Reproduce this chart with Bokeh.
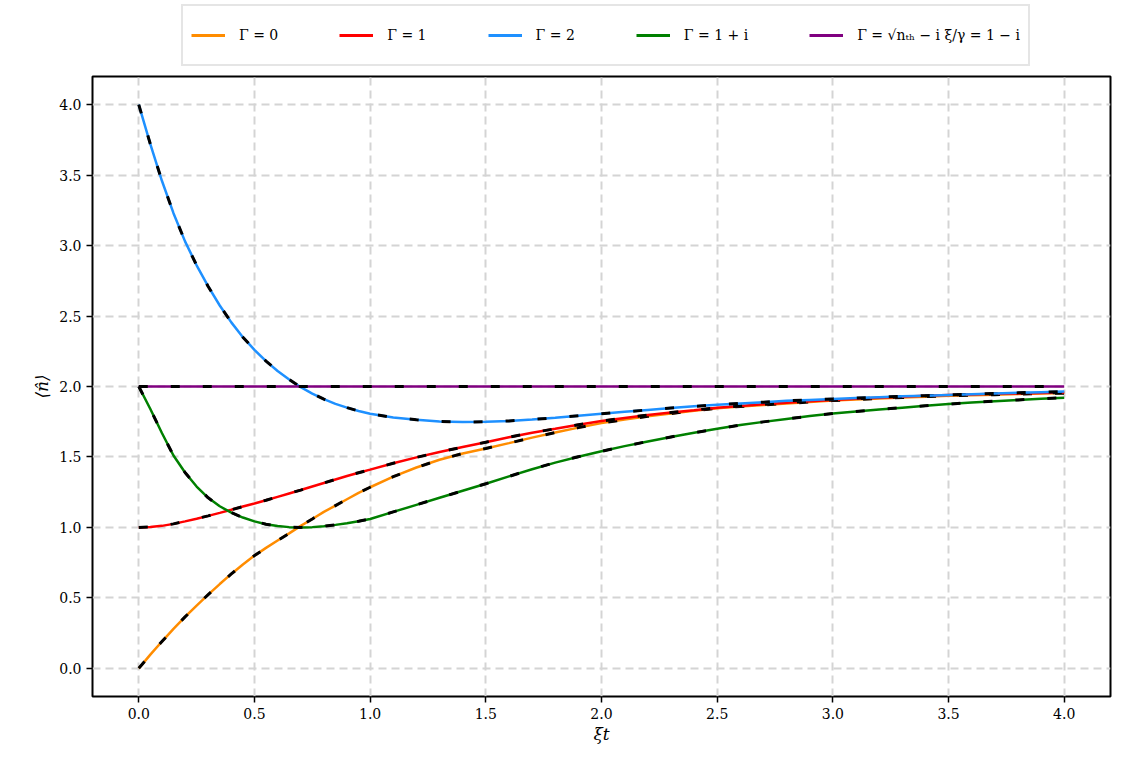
from bokeh.plotting import figure
from bokeh.models import Legend, LegendItem, FixedTicker, ColumnDataSource, Range1d
from bokeh.layouts import column
from bokeh.embed import file_html
from bokeh.resources import INLINE

t = [0.0, 0.05, 0.1, 0.15, 0.2, 0.25, 0.3, 0.35, 0.4, 0.45, 0.5, 0.55, 0.6, 0.65, 0.7,
     0.75, 0.8, 0.85, 0.9, 0.95, 1.0, 1.1, 1.2, 1.3, 1.4, 1.5, 1.6, 1.7, 1.8, 1.9, 2.0,
     2.1, 2.2, 2.3, 2.4, 2.5, 2.6, 2.7, 2.8, 2.9, 3.0, 3.1, 3.2, 3.3, 3.4, 3.5, 3.6, 3.7,
     3.8, 3.9, 4.0]

n_gamma0 = [0.0, 0.097, 0.19, 0.28, 0.365, 0.445, 0.523, 0.598, 0.67, 0.737, 0.80,
            0.855, 0.907, 0.958, 1.011, 1.06, 1.11, 1.155, 1.20, 1.245, 1.285,
            1.36, 1.425, 1.48, 1.525, 1.56, 1.598, 1.637, 1.673, 1.708, 1.74,
            1.765, 1.788, 1.808, 1.828, 1.846, 1.858, 1.869, 1.88, 1.89, 1.90,
            1.908, 1.915, 1.922, 1.928, 1.934, 1.938, 1.942, 1.946, 1.95, 1.953]
n_gamma1 = [1.0, 1.003, 1.011, 1.025, 1.043, 1.062, 1.082, 1.103, 1.125, 1.148, 1.17,
            1.193, 1.217, 1.241, 1.265, 1.29, 1.315, 1.34, 1.365, 1.388, 1.41,
            1.455, 1.497, 1.535, 1.57, 1.605, 1.64, 1.672, 1.70, 1.729, 1.755,
            1.777, 1.797, 1.815, 1.832, 1.85, 1.862, 1.874, 1.885, 1.895, 1.905,
            1.913, 1.92, 1.927, 1.934, 1.94, 1.944, 1.948, 1.951, 1.954, 1.957]
n_gamma2 = [4.0, 3.72, 3.46, 3.23, 3.03, 2.86, 2.71, 2.575, 2.455, 2.35, 2.26,
            2.18, 2.11, 2.05, 1.995, 1.95, 1.91, 1.877, 1.85, 1.826, 1.806,
            1.78, 1.764, 1.752, 1.748, 1.75, 1.756, 1.766, 1.778, 1.792, 1.806,
            1.82, 1.834, 1.847, 1.859, 1.87, 1.88, 1.889, 1.898, 1.905, 1.912,
            1.918, 1.924, 1.93, 1.935, 1.94, 1.945, 1.95, 1.955, 1.96, 1.965]
n_gamma1pi = [2.0, 1.84, 1.67, 1.51, 1.39, 1.29, 1.21, 1.15, 1.105, 1.07, 1.043,
              1.023, 1.01, 1.002, 1.0, 1.002, 1.008, 1.018, 1.03, 1.044, 1.06,
              1.11, 1.16, 1.21, 1.26, 1.31, 1.362, 1.413, 1.46, 1.502, 1.54,
              1.577, 1.61, 1.642, 1.672, 1.70, 1.726, 1.749, 1.77, 1.79, 1.808,
              1.823, 1.837, 1.85, 1.863, 1.875, 1.886, 1.896, 1.905, 1.913, 1.92]
n_gamma1mi = [2.0] * len(t)

labels = ["Γ = 0", "Γ = 1", "Γ = 2", "Γ = 1 + i", "Γ = √nₜₕ − i ξ/γ = 1 − i"]
colors = ["#ff8c00", "#ff0000", "#1e90ff", "#008000", "#800080"]
series = [n_gamma0, n_gamma1, n_gamma2, n_gamma1pi, n_gamma1mi]

xticks = [0.0, 0.5, 1.0, 1.5, 2.0, 2.5, 3.0, 3.5, 4.0]
yticks = [0.0, 0.5, 1.0, 1.5, 2.0, 2.5, 3.0, 3.5, 4.0]

FONT = "DejaVu Serif"

# ---- main plot ----
p = figure(width=1130, height=697, output_backend="svg", toolbar_location=None,
           x_range=(-0.2, 4.2), y_range=(-0.2, 4.2),
           min_border_left=92, min_border_right=20, min_border_top=4, min_border_bottom=73)

p.outline_line_color = "black"
p.outline_line_width = 2
p.outline_line_alpha = 1.0

for ax in (p.xaxis[0], p.yaxis[0]):
    ax.axis_line_color = None
    ax.major_tick_line_color = "black"
    ax.major_tick_line_width = 1.5
    ax.major_tick_out = 6
    ax.major_tick_in = 0
    ax.minor_tick_line_color = None
    ax.major_label_text_font = FONT
    ax.major_label_text_font_size = "14px"
    ax.major_label_text_color = "black"
    ax.axis_label_text_font = FONT
    ax.axis_label_text_font_size = "17px"
    ax.axis_label_text_font_style = "italic"
    ax.axis_label_text_color = "black"

p.xaxis.ticker = FixedTicker(ticks=xticks)
p.yaxis.ticker = FixedTicker(ticks=yticks)
p.xaxis.major_label_overrides = {v: f"{v:.1f}" for v in xticks}
p.yaxis.major_label_overrides = {v: f"{v:.1f}" for v in yticks}
p.xaxis.axis_label = "ξt"
p.yaxis.axis_label = "⟨n̂⟩"
p.xaxis.axis_label_standoff = 2
p.yaxis.axis_label_standoff = 4

p.grid.grid_line_color = "#d4d4d4"
p.grid.grid_line_width = 2
p.grid.grid_line_dash = "8 5"

for col, ys in zip(colors, series):
    src = ColumnDataSource(dict(x=t, y=ys))
    p.line("x", "y", source=src, line_color=col, line_width=2.5)
    p.line("x", "y", source=src, line_color="black", line_width=3, line_dash="9 23")

# ---- legend strip ----
pl = figure(width=1130, height=72, output_backend="svg", toolbar_location=None,
            x_range=Range1d(0, 1), y_range=Range1d(0, 1),
            min_border_left=0, min_border_right=0, min_border_top=0, min_border_bottom=0)
pl.axis.visible = False
pl.grid.visible = False
pl.outline_line_color = None

items = []
for lab, col in zip(labels, colors):
    # legend-only renderer, placed outside the visible range of the legend strip
    r = pl.line(x=[5, 6], y=[5, 5], line_color=col, line_width=3)
    items.append(LegendItem(label=lab, renderers=[r]))

legend = Legend(items=items, orientation="horizontal", location=(89, 6),
                label_text_font=FONT, label_text_font_size="14px",
                label_text_color="black",
                glyph_width=34, glyph_height=14, label_standoff=14, spacing=61,
                label_height=42,
                border_line_color="#cccccc", border_line_width=2,
                padding=8, margin=0)
pl.add_layout(legend, "center")

layout = column(pl, p, spacing=0)
open("out.html", "w").write(file_html(layout, INLINE))
